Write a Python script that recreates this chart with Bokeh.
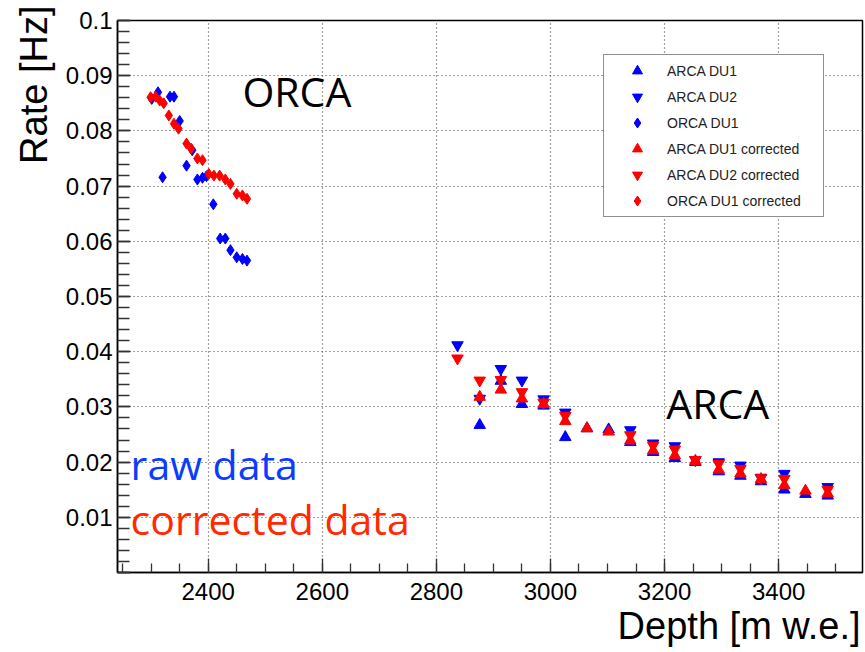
from bokeh.plotting import figure
from bokeh.models import (Range1d, SingleIntervalTicker, CustomJSTickFormatter,
                          Legend, LegendItem, Label, Title)
from bokeh.embed import file_html
from bokeh.resources import INLINE

# ---------------- data ----------------
orca_raw_depth = [2301, 2312, 2320, 2333, 2340, 2350, 2362, 2372, 2381, 2390,
                  2397, 2409, 2421, 2430, 2439, 2450, 2460, 2468]
orca_raw_rate = [0.0858, 0.0870, 0.0716, 0.0862, 0.0862, 0.0818, 0.0737, 0.0765,
                 0.0712, 0.0715, 0.0718, 0.0667, 0.0605, 0.0605, 0.0584, 0.0571,
                 0.0568, 0.0565]

orca_corr_depth = [2299, 2308, 2315, 2322, 2331, 2340, 2348, 2362, 2370, 2381,
                   2390, 2401, 2410, 2420, 2430, 2439, 2450, 2460, 2468]
orca_corr_rate = [0.0861, 0.0862, 0.0855, 0.0850, 0.0828, 0.0813, 0.0804, 0.0777,
                  0.0768, 0.0750, 0.0747, 0.0722, 0.0719, 0.0719, 0.0712, 0.0704,
                  0.0686, 0.0683, 0.0677]

arca_du1_depth = [2876, 2913, 2950, 2988, 3026, 3064, 3102, 3140, 3180, 3218,
                  3254, 3295, 3333, 3369, 3410, 3447, 3486]
arca_du1_raw = [0.0267, 0.0347, 0.0305, 0.0302, 0.0245, 0.0261, 0.0259, 0.0236,
                0.0218, 0.0207, 0.0200, 0.0183, 0.0175, 0.0165, 0.0150, 0.0142,
                0.0139]
arca_du1_corr = [0.0318, 0.0331, 0.0315, 0.0305, 0.0274, 0.0261, 0.0255, 0.0239,
                 0.0221, 0.0212, 0.0202, 0.0186, 0.0179, 0.0169, 0.0158, 0.0148,
                 0.0143]

arca_du2_depth = [2837, 2876, 2913, 2950, 2988, 3026, 3140, 3180, 3218, 3254,
                  3295, 3333, 3369, 3410, 3486]
arca_du2_raw = [0.0412, 0.0315, 0.0369, 0.0348, 0.0314, 0.0290, 0.0258, 0.0234,
                0.0229, 0.0204, 0.0200, 0.0194, 0.0172, 0.0179, 0.0155]
arca_du2_corr = [0.0388, 0.0348, 0.0349, 0.0327, 0.0308, 0.0284, 0.0249, 0.0230,
                 0.0223, 0.0204, 0.0197, 0.0188, 0.0171, 0.0170, 0.0150]

legend_labels = ["ARCA DU1", "ARCA DU2", "ORCA DU1",
                 "ARCA DU1 corrected", "ARCA DU2 corrected", "ORCA DU1 corrected"]

x_title = "Depth [m w.e.]"
y_title = "Rate [Hz]"

BLUE = "#0000ff"
RED = "#ff0000"
SANS = "Liberation Sans"

W, H = 865, 652
p = figure(width=W, height=H, output_backend="svg", toolbar_location=None,
           x_range=Range1d(2241, 3547), y_range=Range1d(0, 0.1),
           min_border_left=117, min_border_right=3, min_border_top=20,
           min_border_bottom=80)
p.background_fill_color = "white"
p.border_fill_color = "white"
p.outline_line_color = "black"
p.outline_line_width = 1.5

# axes
p.xaxis.ticker = SingleIntervalTicker(interval=200, num_minor_ticks=4)
p.yaxis.ticker = SingleIntervalTicker(interval=0.01, num_minor_ticks=5)
p.yaxis.formatter = CustomJSTickFormatter(
    code="return tick < 1e-9 ? '' : String(Number(tick.toFixed(3)));")
for ax in (p.xaxis[0], p.yaxis[0]):
    ax.axis_line_color = "black"
    ax.axis_line_width = 1.5
    ax.major_tick_out = 0
    ax.minor_tick_out = 0
    ax.major_tick_line_color = "#333333"
    ax.minor_tick_line_color = "#333333"
    ax.major_tick_line_width = 1.3
    ax.minor_tick_line_width = 1.3
    ax.major_label_text_font = SANS
    ax.major_label_text_font_size = "24px"
    ax.major_label_text_color = "black"
p.xaxis.major_tick_in = 14
p.xaxis.minor_tick_in = 9
p.yaxis.major_tick_in = 13
p.yaxis.minor_tick_in = 12
p.xaxis.major_label_standoff = 10
p.yaxis.major_label_standoff = 5

# axis titles in ROOT style (at the end of each axis)
p.add_layout(Title(text=x_title, align="right", text_font=SANS,
                   text_font_size="38px", text_font_style="normal",
                   text_color="black", standoff=0, offset=2), "below")
p.add_layout(Title(text=y_title, align="right", text_font=SANS,
                   text_font_size="38px", text_font_style="normal",
                   text_color="black", standoff=16, offset=-15), "left")

# grids
for g in (p.xgrid[0], p.ygrid[0]):
    g.grid_line_color = "#444444"
    g.grid_line_dash = "1 3"
    g.grid_line_width = 1.2

# series
r_a1 = p.scatter(arca_du1_depth, arca_du1_raw, marker="triangle", size=11.5,
                 fill_color=BLUE, line_color=BLUE)
r_a2 = p.scatter(arca_du2_depth, arca_du2_raw, marker="inverted_triangle", size=11.5,
                 fill_color=BLUE, line_color=BLUE)
r_o1 = p.scatter(orca_raw_depth, orca_raw_rate, marker="diamond", size=11,
                 fill_color=BLUE, line_color=BLUE)
r_a1c = p.scatter(arca_du1_depth, arca_du1_corr, marker="triangle", size=11.5,
                  fill_color=RED, line_color=RED)
r_a2c = p.scatter(arca_du2_depth, arca_du2_corr, marker="inverted_triangle", size=11.5,
                  fill_color=RED, line_color=RED)
r_o1c = p.scatter(orca_corr_depth, orca_corr_rate, marker="diamond", size=11,
                  fill_color=RED, line_color=RED)

renderers = [r_a1, r_a2, r_o1, r_a1c, r_a2c, r_o1c]
legend = Legend(items=[LegendItem(label=l, renderers=[r])
                       for l, r in zip(legend_labels, renderers)],
                location=(486, 355), margin=0, padding=3, spacing=1,
                glyph_width=60, glyph_height=25, label_height=25,
                label_width=153, label_standoff=0,
                label_text_font=SANS, label_text_font_size="14px",
                label_text_color="#222222",
                border_line_color="#222222", border_line_width=1.5,
                background_fill_color="white", background_fill_alpha=1.0)
p.add_layout(legend, "center")

# annotations inside the frame
big = "41px"
for xx, yy, txt, col in [(2460, 0.0821, "ORCA", "black"),
                         (3203, 0.0257, "ARCA", "black"),
                         (2264, 0.0146, "raw data", "#0a3cff"),
                         (2264, 0.00465, "corrected data", "#ff2a00")]:
    p.add_layout(Label(x=xx, y=yy, text=txt, text_font="Open Sans",
                       text_font_size=big, text_color=col,
                       text_baseline="bottom"))

open("out.html", "w").write(file_html(p, INLINE))
